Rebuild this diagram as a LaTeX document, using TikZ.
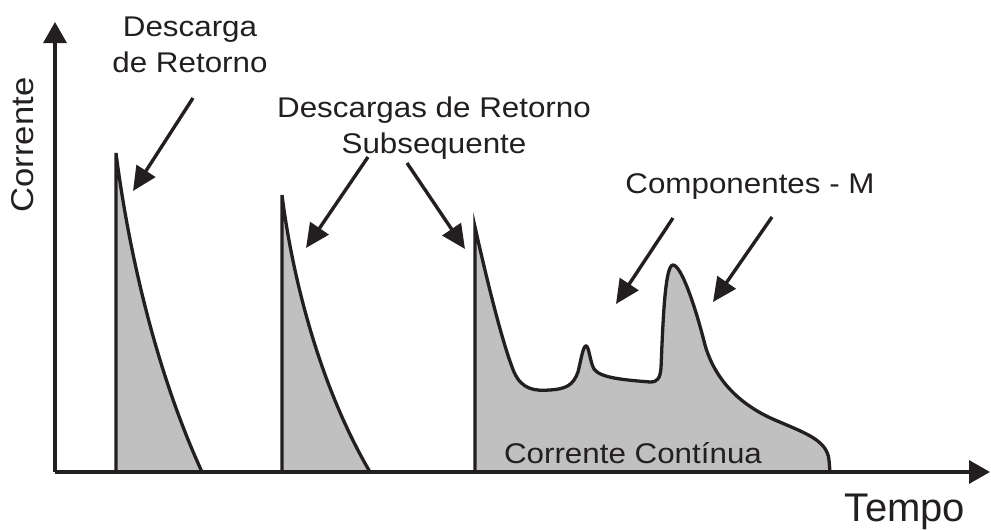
\documentclass[tikz,border=0pt]{standalone}
\usepackage{fontspec}
\setmainfont{Liberation Sans}
\newfontfamily\lbl{Liberation Sans}[FakeStretch=1.1]
\usetikzlibrary{arrows.meta}
\definecolor{ink}{HTML}{231F20}
\definecolor{pulse}{HTML}{C0C0C0}
\tikzset{
  pulseshape/.style={draw=ink, fill=pulse, line width=3.3pt, line join=miter},
  axisline/.style={draw=ink, line width=3.2pt, -{Triangle[length=21pt,width=23pt]}},
  pointer/.style={draw=ink, line width=3.4pt, -{Triangle[length=24pt,width=22pt]}},
  lab/.style={inner sep=0pt, text=ink, font=\lbl\fontsize{28.5}{36}\selectfont, align=center, anchor=base},
}
\begin{document}
\begin{tikzpicture}[x=1pt,y=-1pt]
\useasboundingbox (0,0) rectangle (991,530);
% pulses
\path[pulseshape] (116,472) -- (116,153) .. controls (127,240) and (153,365) .. (202,472);
\path[pulseshape] (282,472) -- (282,195) .. controls (292,275) and (319,385) .. (370,472);
\path[pulseshape] (475,472) -- (475,227)
  .. controls (488,285) and (503,345) .. (514,372)
  .. controls (522,390) and (535,391) .. (550,390)
  .. controls (565,389) and (573,386) .. (578,372)
  .. controls (581,360) and (583,346) .. (586,346)
  .. controls (589,346) and (590,362) .. (594,369)
  .. controls (600,378) and (625,380) .. (650,382)
  .. controls (658,382) and (660,378) .. (661,368)
  .. controls (663,320) and (665,265) .. (673,265)
  .. controls (681,265) and (695,305) .. (705,345)
  .. controls (715,380) and (740,405) .. (775,420)
  .. controls (805,433) and (827,440) .. (829,460)
  -- (830,472);
% axes
\coordinate (O) at (55,472);
\coordinate (ytip) at (55,22);
\coordinate (xtip) at (990,472);
\draw[axisline] (O) -- (ytip);
\draw[axisline] (O) -- (xtip);
% labels (anchor=base is the baseline of the last line)
\node[lab] (tA) at (190,72) {Descarga\\de Retorno};
\node[lab] (tB) at (434,153) {Descargas de Retorno\\Subsequente};
\node[lab] (tC) at (750,193) {Componentes - M};
\node[lab] (tD) at (633,463) {Corrente Contínua};
\node[lab, rotate=90, font=\lbl\fontsize{31.5}{36}\selectfont] (tE) at (34,145) {Corrente};
\node[lab, font=\fontsize{40}{44}\selectfont] (tF) at (905,521) {Tempo};
% pointers
\coordinate (a1s) at (193,98);  \coordinate (a1e) at (133,191);
\coordinate (a2s) at (368,157); \coordinate (a2e) at (306,248);
\coordinate (a3s) at (407,163); \coordinate (a3e) at (465,249);
\coordinate (a4s) at (673,218); \coordinate (a4e) at (616,304);
\coordinate (a5s) at (772,217); \coordinate (a5e) at (713,302);
\draw[pointer] (a1s) -- (a1e);
\draw[pointer] (a2s) -- (a2e);
\draw[pointer] (a3s) -- (a3e);
\draw[pointer] (a4s) -- (a4e);
\draw[pointer] (a5s) -- (a5e);
\end{tikzpicture}
\end{document}
